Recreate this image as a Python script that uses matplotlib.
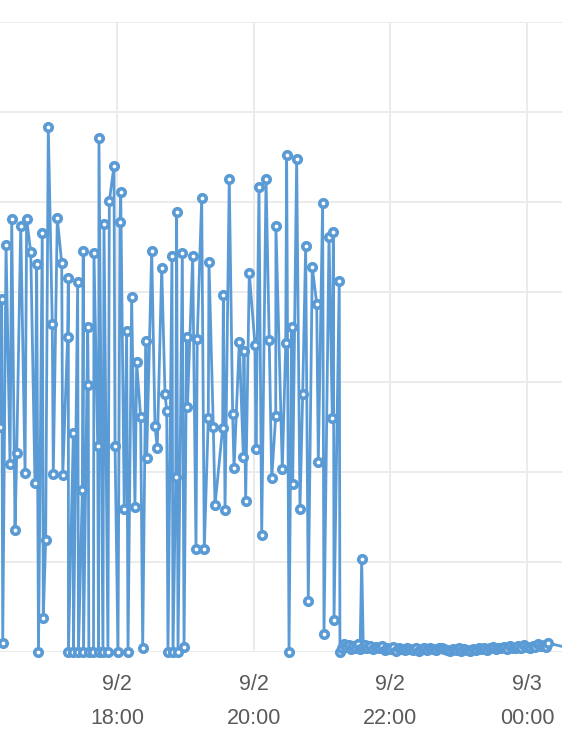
import matplotlib.pyplot as plt

# minutes after 9/2 16:00, and the reading at that time
minutes = [17.7, 18.8, 19.7, 22.6, 26.1, 27.6, 30.5, 32.0, 35.5, 39.3,
           40.7, 44.3, 48.0, 49.5, 51.1, 54.4, 55.3, 57.4, 59.7, 63.2,
           64.1, 67.6, 71.5, 72.4, 76.7, 77.3, 77.4, 81.7, 81.8, 85.5,
           86.2, 89.6, 90.4, 90.6, 94.3, 94.8, 95.3, 99.4, 99.8, 103.1,
           103.8, 104.2, 107.7, 108.6, 112.1, 113.3, 117.4, 118.3, 120.9, 122.7,
           123.3, 126.4, 128.5, 129.7, 132.9, 135.8, 137.3, 140.8, 142.6, 145.5,
           146.1, 150.5, 153.4, 155.4, 159.3, 162.2, 163.7, 164.8, 168.3, 169.2,
           171.6, 172.4, 173.6, 177.4, 178.9, 181.2, 181.9, 186.5, 189.4, 190.5,
           194.4, 196.7, 200.2, 200.8, 204.6, 206.1, 212.8, 213.4, 214.9, 218.6,
           221.6, 222.8, 227.4, 231.0, 231.5, 233.0, 236.2, 241.2, 242.1, 244.7,
           247.1, 250.9, 253.7, 255.9, 259.4, 259.6, 265.2, 268.2, 269.0, 271.1,
           273.4, 274.3, 277.8, 280.7, 283.1, 285.7, 288.0, 291.5, 295.4, 296.8,
           300.6, 301.8, 306.2, 309.1, 310.0, 310.6, 315.2, 315.8,
           317.5, 319.5, 321.5, 323.5, 325.5, 327.5, 329.5, 331.5, 333.5, 334.9,
           336.3, 338.0, 340.0, 342.5, 345.0, 347.5, 350.0, 352.5, 355.0, 357.5,
           360.0, 362.5, 365.0, 367.5, 370.0, 372.5, 375.0, 377.5, 380.0, 382.5,
           385.0, 387.5, 390.0, 392.5, 395.0, 397.5, 400.0, 402.5, 405.0, 407.5,
           410.0, 412.5, 415.0, 417.5, 420.0, 422.5, 425.0, 427.5, 430.0, 432.5,
           435.0, 437.5, 440.0, 442.5, 445.0, 447.5, 450.0, 452.5, 455.0, 457.5,
           460.0, 462.5, 465.0, 467.5, 470.0, 472.5, 475.0, 477.5, 480.0, 482.5,
           485.0, 487.5, 490.0, 492.5, 495.0, 497.0, 498.5, 518.0]

values = [25.0, 39.2, 1.0, 45.2, 20.9, 48.1, 13.6, 22.1, 47.3, 19.9,
          48.1, 44.4, 18.8, 43.1, 0.0, 46.6, 3.8, 12.4, 58.3, 36.4,
          19.8, 48.2, 43.2, 19.7, 35.0, 41.6, 0.0, 24.3, 0.0, 41.1,
          0.0, 18.0, 44.6, 0.0, 36.1, 29.7, 0.0, 0.0, 44.3, 22.9,
          0.0, 57.1, 0.0, 47.6, 0.0, 50.1, 54.0, 22.9, 0.0, 47.8,
          51.1, 15.9, 35.7, 0.0, 39.4, 16.1, 32.2, 26.1, 0.4, 34.6,
          21.6, 44.6, 25.1, 22.7, 42.7, 28.7, 26.8, 0.0, 44.0, 0.0,
          19.4, 48.9, 0.0, 44.3, 0.6, 35.0, 27.2, 44.0, 11.4, 34.8,
          50.4, 11.4, 26.0, 43.3, 25.0, 16.3, 24.9, 39.7, 15.8, 52.6,
          26.4, 20.4, 34.4, 21.7, 33.4, 16.8, 42.1, 34.1, 22.6, 51.7,
          13.0, 52.6, 34.7, 19.3, 26.2, 47.3, 20.3, 34.3, 55.2, 0.0,
          36.1, 18.7, 54.8, 15.9, 28.7, 45.1, 5.7, 42.8, 38.7, 21.1,
          49.9, 2.0, 46.1, 26.0, 46.7, 3.6, 41.2, 0.0,
          0.5, 0.9, 0.6, 0.8, 0.3, 0.7, 0.5, 0.9, 0.3, 10.3,
          0.5, 0.8, 0.4, 0.7, 0.3, 0.6, 0.4, 0.7, 0.2, 0.5,
          0.3, 0.6, 0.1, 0.4, 0.3, 0.2, 0.5, 0.3, 0.2, 0.4,
          0.1, 0.3, 0.5, 0.2, 0.4, 0.3, 0.2, 0.5, 0.4, 0.3,
          0.2, 0.1, 0.3, 0.2, 0.4, 0.1, 0.3, 0.2, 0.1, 0.3,
          0.2, 0.4, 0.3, 0.5, 0.2, 0.4, 0.6, 0.3, 0.5, 0.4,
          0.6, 0.3, 0.7, 0.5, 0.4, 0.7, 0.5, 0.8, 0.6, 0.5,
          0.7, 0.6, 0.9, 0.7, 0.8, 0.6, 1.0, 0.4]

tick_pos = [120, 240, 360, 480]
tick_labels = ["9/2\n18:00", "9/2\n20:00", "9/2\n22:00", "9/3\n00:00"]

blue = "#5b9bd5"

fig = plt.figure(figsize=(5.62, 7.38), dpi=100)
ax = fig.add_axes([0, 86 / 738, 1, 630 / 738])

ax.plot(minutes, values, color=blue, lw=2.0, marker="o", ms=5.4,
        mfc="white", mec=blue, mew=2.6, clip_on=False, zorder=3)

ax.set_xlim(17.3, 17.3 + 562 * 0.8781)
ax.set_ylim(0, 70)
ax.set_yticks(range(0, 71, 10))
ax.set_xticks(tick_pos)
ax.set_xticklabels(tick_labels, fontsize=15.5, color="#5a5a5a",
                   family="Liberation Sans", linespacing=1.86)
ax.tick_params(axis="x", length=0, pad=15.5)
ax.tick_params(axis="y", length=0, labelleft=False)
ax.grid(True, color="#ebebeb", lw=1.4)
ax.set_axisbelow(True)
for s in ax.spines.values():
    s.set_visible(False)

fig.savefig("out.png", dpi=100)
